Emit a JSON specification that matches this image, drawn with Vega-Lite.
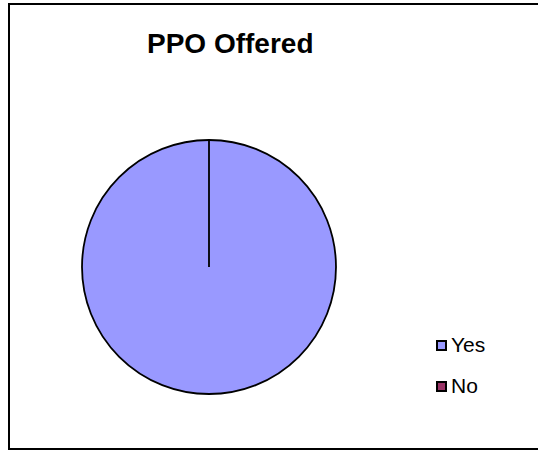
{
  "$schema": "https://vega.github.io/schema/vega-lite/v6.json",
  "autosize": "none",
  "padding": {"left": 9, "top": 4, "right": -3, "bottom": 3},
  "width": 532,
  "height": 445,
  "background": "white",
  "view": {"stroke": "black", "strokeWidth": 2},
  "title": {
    "text": "PPO Offered",
    "anchor": "start",
    "frame": "group",
    "dx": 138,
    "offset": -49,
    "dy": 28,
    "baseline": "alphabetic",
    "font": "Liberation Sans",
    "fontSize": 28,
    "fontWeight": "bold",
    "color": "black"
  },
  "data": {
    "values": [
      {"answer": "Yes", "value": 100},
      {"answer": "No", "value": 0}
    ]
  },
  "mark": {
    "type": "arc",
    "radius": 127,
    "x": 200,
    "y": 263,
    "stroke": "black",
    "strokeWidth": 1.8
  },
  "encoding": {
    "theta": {"field": "value", "type": "quantitative", "stack": true},
    "color": {
      "field": "answer",
      "type": "nominal",
      "sort": ["Yes", "No"],
      "scale": {"domain": ["Yes", "No"], "range": ["#9999FF", "#993366"]},
      "legend": {
        "orient": "none",
        "legendX": 422,
        "legendY": 331,
        "title": null,
        "padding": 0,
        "symbolType": "square",
        "symbolSize": 81,
        "symbolStrokeColor": "black",
        "symbolStrokeWidth": 2,
        "labelFont": "Liberation Sans",
        "labelFontSize": 21,
        "labelColor": "black",
        "labelOffset": -1,
        "rowPadding": 19
      }
    }
  },
  "config": {
    "view": {"stroke": "black", "strokeWidth": 2}
  }
}
